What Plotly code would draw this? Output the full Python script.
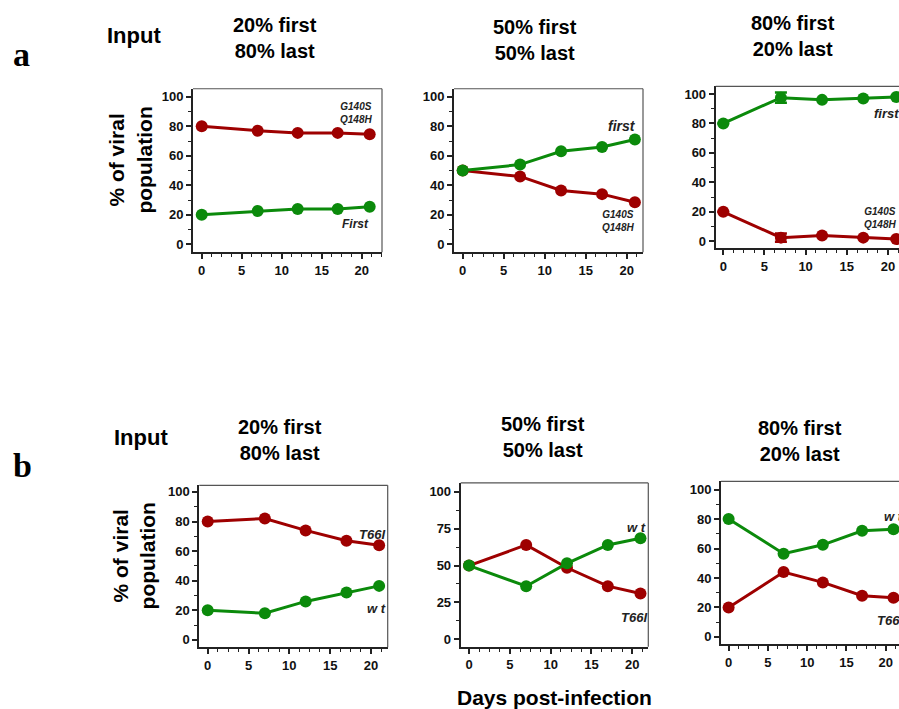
import plotly.graph_objects as go

# ---------------- data ----------------
days = [0, 7, 12, 17, 21]

a1_mut = [80, 77, 75.5, 75.5, 74.5]
a1_first = [20, 22.5, 24, 24, 25.5]
a2_first = [50, 54, 63, 66, 71]
a2_mut = [50, 46, 36.5, 34, 28.5]
a3_first = [80, 97.5, 96, 97, 98]
a3_first_err = [0, 3.5, 0, 0, 0]
a3_mut = [20, 2.5, 4, 2.5, 1.5]
a3_mut_err = [0, 2.8, 0, 0, 0]

b1_t66i = [80, 82, 74, 67, 64]
b1_wt = [20, 18, 26, 32, 36.5]
b2_wt = [50, 36, 51.5, 64, 68.5]
b2_t66i = [50, 64, 48.5, 36, 31]
b3_wt = [80, 56.5, 62.5, 72, 73]
b3_t66i = [20, 44, 37, 28, 26.5]

col_titles = ["20% first<br>80% last", "50% first<br>50% last", "80% first<br>20% last"]

RED = "#9e0000"
GREEN = "#0b8a0b"
W, H = 899, 709
FONT = "Liberation Sans, Arial, sans-serif"

# panel geometry (pixels) and axis ranges
panels = [
    dict(px=(193, 382), py=(88, 252), xr=[-1.09, 22.54], yr=[-5.4, 105.4], dt=20, mn=10, right=True),
    dict(px=(454, 643), py=(88, 252), xr=[-1.06, 21.99], yr=[-5.4, 105.4], dt=20, mn=10, right=True),
    dict(px=(715.7, 899), py=(85.7, 248), xr=[-0.92, 21.34], yr=[-4.74, 105.1], dt=20, mn=10, right=False),
    dict(px=(199.3, 387.7), py=(485.7, 648), xr=[-1.03, 22.05], yr=[-4.92, 104.45], dt=20, mn=10, right=True),
    dict(px=(460.7, 648.3), py=(483.3, 647.7), xr=[-1.02, 21.96], yr=[-5.2, 106.1], dt=25, mn=12.5, right=True),
    dict(px=(721, 899), py=(481.7, 645), xr=[-0.97, 21.7], yr=[-4.94, 105.6], dt=20, mn=10, right=False),
]

series = [
    [(a1_mut, RED, None), (a1_first, GREEN, None)],
    [(a2_mut, RED, None), (a2_first, GREEN, None)],
    [(a3_mut, RED, a3_mut_err), (a3_first, GREEN, a3_first_err)],
    [(b1_t66i, RED, None), (b1_wt, GREEN, None)],
    [(b2_t66i, RED, None), (b2_wt, GREEN, None)],
    [(b3_t66i, RED, None), (b3_wt, GREEN, None)],
]

# labels: (text, x, y, xanchor, size)
labels = [
    [("First", 19.2, 13.5, "center", 12), ("G140S<br>Q148H", 19.3, 88.9, "center", 10)],
    [("first", 19.4, 80.4, "center", 14), ("G140S<br>Q148H", 18.9, 15.9, "center", 10)],
    [("first", 18.0, 86.7, "left", 13), ("G140S<br>Q148H", 16.9, 15.9, "left", 10)],
    [("T66I", 20.1, 71.2, "center", 13), ("w t", 20.7, 21.4, "center", 13)],
    [("w t", 20.5, 75.8, "center", 13), ("T66I", 20.2, 14.9, "center", 13)],
    [("w t", 19.5, 81.7, "left", 13), ("T66I", 18.6, 11.3, "left", 13)],
]

fig = go.Figure()
layout = dict(
    width=W, height=H, margin=dict(l=0, r=0, t=0, b=0),
    paper_bgcolor="white", plot_bgcolor="white", showlegend=False,
    font=dict(family=FONT, color="#111"),
)
annotations = []
shapes = []

for i, p in enumerate(panels):
    k = "" if i == 0 else str(i + 1)
    xa, ya = "x" + k, "y" + k
    xd = [p["px"][0] / W, min(1.0, p["px"][1] / W)]
    yd = [1 - p["py"][1] / H, 1 - p["py"][0] / H]
    layout["xaxis" + k] = dict(
        domain=xd, range=p["xr"], anchor=ya, showgrid=False, zeroline=False,
        showline=True, linewidth=2, linecolor="#222", ticks="outside", ticklen=5,
        tickwidth=1.5, tickcolor="#222", tickmode="linear", tick0=0, dtick=5,
        minor=dict(ticks="outside", ticklen=3, tickwidth=1.2, tickcolor="#222", dtick=1.25, tick0=0),
        tickfont=dict(family=FONT, size=13, color="#111", weight="bold"),
        fixedrange=True,
    )
    layout["yaxis" + k] = dict(
        domain=yd, range=p["yr"], anchor=xa, showgrid=False, zeroline=False,
        showline=True, linewidth=2, linecolor="#222", ticks="outside", ticklen=5,
        tickwidth=1.5, tickcolor="#222", tickmode="linear", tick0=0, dtick=p["dt"],
        minor=dict(ticks="outside", ticklen=3, tickwidth=1.2, tickcolor="#222", dtick=p["mn"], tick0=0),
        tickfont=dict(family=FONT, size=13, color="#111", weight="bold"),
        fixedrange=True,
    )
    # frame: top (and right) borders
    shapes.append(dict(type="line", xref=xa + " domain", yref=ya + " domain",
                       x0=0, x1=1, y0=1, y1=1, line=dict(color="#555", width=1.2)))
    if p["right"]:
        shapes.append(dict(type="line", xref=xa + " domain", yref=ya + " domain",
                           x0=1, x1=1, y0=0, y1=1, line=dict(color="#555", width=1.2)))
    for vals, c, err in series[i]:
        tr = dict(x=days, y=vals, mode="lines+markers", xaxis=xa, yaxis=ya,
                  line=dict(color=c, width=3),
                  marker=dict(color=c, size=12), cliponaxis=False, hoverinfo="skip")
        if err is not None:
            tr["error_y"] = dict(type="data", array=err, visible=True, color=c,
                                 thickness=2.5, width=6)
        fig.add_trace(go.Scatter(**tr))
    for text, x, y, xan, sz in labels[i]:
        annotations.append(dict(text="<b><i>%s</i></b>" % text, x=x, y=y, xref=xa, yref=ya,
                                xanchor=xan, yanchor="middle", showarrow=False,
                                font=dict(family=FONT, size=sz, color="#222")))

# column titles
title_pos_a = [(275, 37), (535, 39), (793, 35)]
title_pos_b = [(280, 440), (543, 437), (800, 441)]
for t, (x, y) in zip(col_titles, title_pos_a):
    annotations.append(dict(text="<b>%s</b>" % t, x=x / W, y=1 - y / H, xref="paper", yref="paper",
                            showarrow=False, xanchor="center", yanchor="middle",
                            font=dict(family=FONT, size=20, color="#000")))
for t, (x, y) in zip(col_titles, title_pos_b):
    annotations.append(dict(text="<b>%s</b>" % t, x=x / W, y=1 - y / H, xref="paper", yref="paper",
                            showarrow=False, xanchor="center", yanchor="middle",
                            font=dict(family=FONT, size=20, color="#000")))

# "Input" labels
for x, y in [(134, 35), (141, 438)]:
    annotations.append(dict(text="<b>Input</b>", x=x / W, y=1 - y / H, xref="paper", yref="paper",
                            showarrow=False, xanchor="center", yanchor="middle",
                            font=dict(family=FONT, size=22, color="#000")))

# panel letters
for t, x, y in [("a", 21, 54), ("b", 22, 466)]:
    annotations.append(dict(text="<b>%s</b>" % t, x=x / W, y=1 - y / H, xref="paper", yref="paper",
                            showarrow=False, xanchor="center", yanchor="middle",
                            font=dict(family="Liberation Serif, Times New Roman, serif", size=34, color="#000")))

# y-axis titles
for x, y in [(130, 160), (134, 557)]:
    annotations.append(dict(text="<b>% of viral<br>population</b>", x=x / W, y=1 - y / H,
                            xref="paper", yref="paper", showarrow=False, textangle=-90,
                            xanchor="center", yanchor="middle",
                            font=dict(family=FONT, size=21, color="#000")))

# x-axis title
annotations.append(dict(text="<b>Days post-infection</b>", x=554 / W, y=1 - 698 / H,
                        xref="paper", yref="paper", showarrow=False, xanchor="center", yanchor="middle",
                        font=dict(family=FONT, size=21, color="#000")))

layout["annotations"] = annotations
layout["shapes"] = shapes
fig.update_layout(**layout)
fig.write_html("out.html")
